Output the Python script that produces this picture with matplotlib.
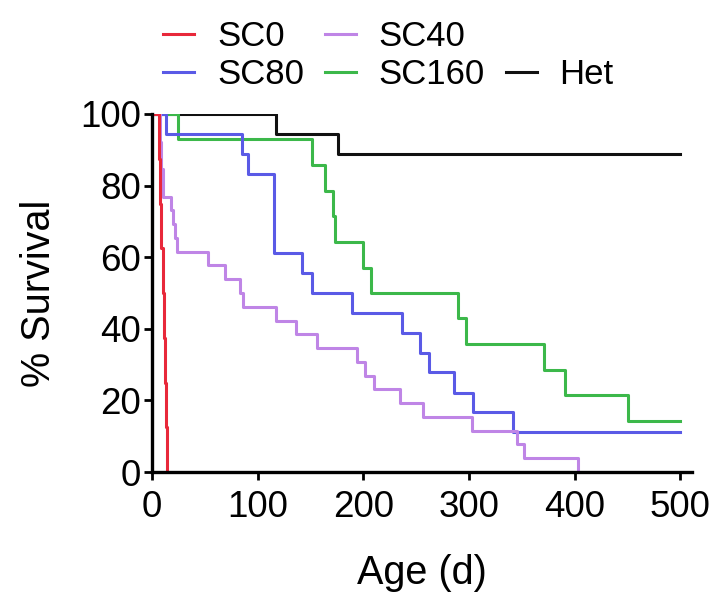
import matplotlib.pyplot as plt
from matplotlib.lines import Line2D

plt.rcParams['font.family'] = ['Liberation Sans', 'DejaVu Sans']

# Kaplan-Meier style survival curves
het_t = [0, 117, 176, 500]
het_s = [100, 94.4, 88.9, 88.9]

sc0_t = [0, 7, 8, 9, 10, 11, 12, 13, 14]
sc0_s = [100, 87.5, 75, 62.5, 50, 37.5, 25, 12.5, 0]

sc40_t = [0, 8, 9, 10, 18, 20, 22, 24, 53, 69, 83, 86, 117, 136, 156,
          194, 202, 210, 235, 256, 303, 345, 352, 403]
sc40_s = [100, 92.3, 84.6, 76.9, 73.1, 69.2, 65.4, 61.5, 57.7, 53.8, 50.0,
          46.2, 42.3, 38.5, 34.6, 30.8, 26.9, 23.1, 19.2, 15.4, 11.5, 7.7,
          3.8, 0]

sc80_t = [0, 13, 85, 91, 115, 142, 151, 189, 237, 254, 262, 286, 304, 342, 500]
sc80_s = [100, 94.4, 88.9, 83.3, 61.1, 55.6, 50.0, 44.4, 38.9, 33.3, 27.8,
          22.2, 16.7, 11.1, 11.1]

sc160_t = [0, 25, 151, 164, 171, 173, 200, 207, 290, 297, 371, 391, 450, 500]
sc160_s = [100, 92.9, 85.7, 78.6, 71.4, 64.3, 57.1, 50.0, 42.9, 35.7, 28.6,
           21.4, 14.3, 14.3]

x_ticks = [0, 100, 200, 300, 400, 500]
y_ticks = [0, 20, 40, 60, 80, 100]

fig = plt.figure(figsize=(7.21, 6), dpi=100)
ax = fig.add_axes([0.2108, 0.2133, 0.749, 0.5967])

lw = 2.2
h_het, = ax.step(het_t, het_s, where='post', color='#111111', lw=lw, label='Het')
h160, = ax.step(sc160_t, sc160_s, where='post', color='#3cb84a', lw=lw, label='SC160')
h80, = ax.step(sc80_t, sc80_s, where='post', color='#5a5ae6', lw=lw, label='SC80')
h40, = ax.step(sc40_t, sc40_s, where='post', color='#bf85e6', lw=lw, label='SC40')
h0, = ax.step(sc0_t, sc0_s, where='post', color='#e8283a', lw=lw, label='SC0')

ax.set_xlim(0, 511)
ax.set_ylim(0, 100)
ax.set_xticks(x_ticks)
ax.set_yticks(y_ticks)
ax.tick_params(direction='out', length=6, width=2, labelsize=26.5)
ax.tick_params(axis='x', pad=7)
ax.tick_params(axis='y', pad=2)
for side in ['top', 'right']:
    ax.spines[side].set_visible(False)
for side in ['left', 'bottom']:
    ax.spines[side].set_linewidth(2.4)

ax.set_xlabel('Age (d)', fontsize=28.5, labelpad=21)
ax.set_ylabel('% Survival', fontsize=28.5, labelpad=16)

# legend: columns filled top-down, blank slot above "Het"
blank = Line2D([], [], color='none')
fig.legend([h0, h80, h40, h160, blank, h_het],
           ['SC0', 'SC80', 'SC40', 'SC160', '', 'Het'],
           ncol=3, loc='upper left', bbox_to_anchor=(0.207, 0.99),
           frameon=False, fontsize=25, handlelength=0.9, handletextpad=0.65,
           columnspacing=0.6, labelspacing=0.15, borderaxespad=0)

fig.savefig('out.png', dpi=100)
